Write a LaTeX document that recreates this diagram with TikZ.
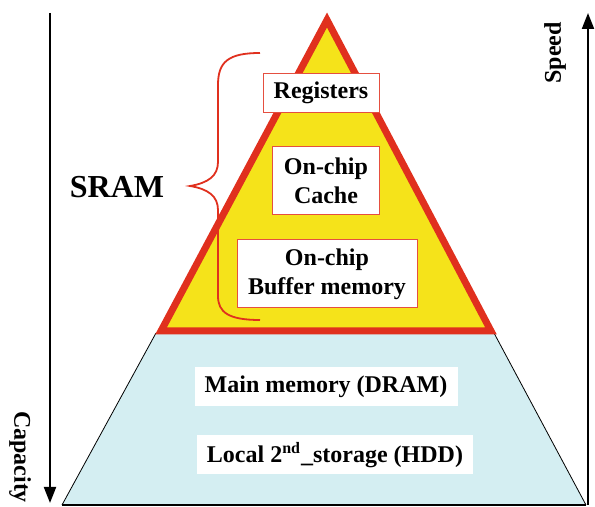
\documentclass[tikz,border=0pt]{standalone}
\usepackage{fontspec}
\setmainfont{Liberation Serif}
\usetikzlibrary{arrows.meta}
\definecolor{pyryellow}{HTML}{F5E31A}
\definecolor{pyrred}{HTML}{E0301E}
\definecolor{pyrblue}{HTML}{D4EEF2}
\tikzset{
  lbl/.style={font=\fontsize{12}{14.4}\selectfont\bfseries, align=center, inner sep=0pt},
  srambox/.style={lbl, fill=white, draw=pyrred!85, line width=0.5pt},
  drambox/.style={lbl, fill=white},
  axis/.style={line width=1pt, -{Triangle[length=8pt,width=6pt]}},
}
\begin{document}
\begin{tikzpicture}[x=0.5pt,y=-0.5pt]
\useasboundingbox (0,0) rectangle (595,507);

% lower (DRAM / HDD) level
\fill[pyrblue] (62,505) -- (156,333) -- (494,333) -- (586,505) -- cycle;
\draw[line width=0.4pt] (62,505) -- (156,333) (494,333) -- (586,505);
\draw[line width=0.8pt] (62,505) -- (586,505);

% upper (SRAM) level
\draw[fill=pyryellow, draw=pyrred, line width=3.5pt]
  (327,20) -- (161,331) -- (491,331) -- cycle;

% level labels
\node[srambox, minimum width=58pt, minimum height=19.5pt] (reg) at (321,93) {Registers};
\node[srambox, minimum width=53.5pt, minimum height=34pt] (cache) at (326,181) {On-chip\\Cache};
\node[srambox, minimum width=90pt, minimum height=34pt] (buf) at (327,274) {On-chip\\Buffer memory};
\node[drambox, minimum width=131.5pt, minimum height=19.5pt] (dram) at (326,387) {Main memory (DRAM)};
\node[drambox, minimum width=138pt, minimum height=19.5pt] (hdd) at (335,455) {Local 2\textsuperscript{nd}\_storage (HDD)};

% brace grouping the SRAM levels
\draw[pyrred, line width=0.9pt]
  (260,53) .. controls (228,53) and (218,62) .. (218,85) -- (218,162)
  .. controls (218,176) and (208,183) .. (190,186)
  .. controls (208,189) and (218,196) .. (218,210) -- (218,296)
  .. controls (218,312) and (228,320) .. (260,320);
\node[font=\fontsize{16}{19}\selectfont\bfseries, inner sep=0pt] (sram) at (117,187) {SRAM};

% axes
\coordinate (captop) at (50,13);
\coordinate (capbot) at (50,503);
\coordinate (spdbot) at (588,505);
\coordinate (spdtop) at (588,13);
\draw[axis] (captop) -- (capbot);
\draw[axis] (spdbot) -- (spdtop);
\node[lbl, rotate=-90] (cap) at (20,457) {Capacity};
\node[lbl, rotate=90] (spd) at (555,53) {Speed};
\end{tikzpicture}
\end{document}
